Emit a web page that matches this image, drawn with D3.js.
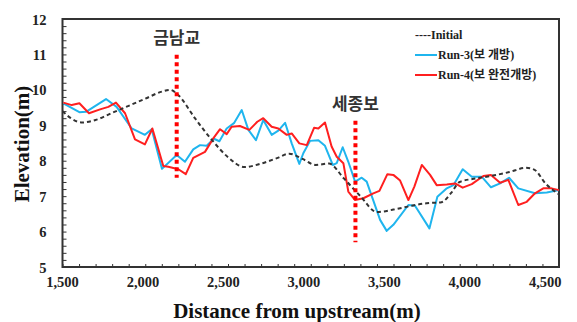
<!DOCTYPE html>
<html><head><meta charset="utf-8">
<script src="https://cdn.jsdelivr.net/npm/d3@7"></script>
<style>
html,body{margin:0;padding:0;background:#fff;}
svg{display:block;}
</style></head>
<body>
<svg id="c" width="577" height="322"></svg>
<script>
// ---- data ----
const initialDist = [1500,1550,1620,1700,1800,1900,2000,2100,2150,2200,2300,2400,2500,2600,2700,2800,2870,2950,3030,3110,3200,3300,3400,3500,3600,3700,3790,3850,3900,4000,4100,4200,4300,4350,4420,4500];
const initialElev = [9.4,9.2,9.08,9.15,9.35,9.55,9.75,9.95,10.0,9.85,9.2,8.6,8.1,7.82,7.92,8.08,8.2,8.05,7.88,7.92,7.5,7.0,6.55,6.62,6.72,6.8,6.83,7.1,7.4,7.5,7.58,7.68,7.8,7.75,7.35,7.05];

const run3Dist = [1505,1602,1642,1763,1827,1918,1998,2039,2101,2190,2240,2290,2331,2371,2415,2448,2492,2536,2583,2623,2669,2713,2764,2804,2845,2885,2931,2955,2996,3046,3086,3133,3157,3193,3227,3268,3308,3338,3419,3459,3499,3590,3630,3717,3765,3822,3862,3918,3973,4033,4089,4144,4198,4254,4355,4426,4500];
const run3Elev = [9.62,9.37,9.38,9.74,9.52,8.91,8.73,8.89,7.77,8.16,7.97,8.32,8.44,8.42,8.62,8.55,8.91,9.06,9.43,8.87,8.58,9.15,8.73,8.85,9.07,8.49,7.91,8.21,8.56,8.58,8.42,7.88,7.93,8.38,7.97,7.41,7.52,7.41,6.33,6.02,6.19,6.75,6.73,6.09,6.98,7.22,7.31,7.76,7.55,7.55,7.25,7.36,7.52,7.22,7.08,7.10,7.17];

const run4Dist = [1505,1556,1602,1660,1727,1777,1823,1878,1938,1998,2043,2109,2139,2200,2245,2290,2361,2411,2452,2492,2522,2572,2629,2677,2713,2764,2804,2855,2885,2931,2976,3020,3046,3086,3126,3157,3197,3227,3268,3318,3378,3415,3463,3499,3540,3590,3626,3671,3721,3761,3822,3872,3918,3973,4043,4089,4144,4194,4254,4305,4355,4405,4455,4500];
const run4Elev = [9.64,9.57,9.62,9.34,9.45,9.52,9.64,9.34,8.60,8.46,8.91,7.85,7.83,7.76,7.62,8.08,8.25,8.63,8.89,8.75,8.96,8.98,8.87,9.10,9.20,8.96,8.91,8.73,8.77,8.49,8.44,8.93,8.91,9.08,8.40,8.11,7.93,7.13,6.89,6.94,7.08,7.15,7.62,7.60,7.44,6.89,7.27,7.88,7.60,7.31,7.33,7.36,7.24,7.34,7.57,7.60,7.38,7.46,6.75,6.84,7.08,7.22,7.22,7.17];

const xTicks = [1500,2000,2500,3000,3500,4000,4500];
const yTicks = [5,6,7,8,9,10,11,12];
const markers = [{name:"금남교", dist:2190, top:10.99, bottom:7.52}, {name:"세종보", dist:3270, top:9.13, bottom:5.7}];
const legendLabels = ["----Initial", "Run-3(보 개방)", "Run-4(보 완전개방)"];

// ---- chart ----
const svg = d3.select("#c");
const L = 62.5, R = 559, T = 19, B = 267;
const x = d3.scaleLinear().domain([1500,4500]).range([L,R]);
const y = d3.scaleLinear().domain([5,12]).range([B,T]);
const serif = "'Liberation Serif','Times New Roman','Noto Sans CJK KR',serif";
const frameColor = "#333";

// minor ticks
const xa = d3.axisBottom(x).tickValues(d3.range(1500,4501,100)).tickSize(-3).tickFormat("");
const gx = svg.append("g").attr("transform",`translate(0,${B})`).call(xa);
gx.select(".domain").remove();
gx.selectAll("line").attr("stroke",frameColor).attr("stroke-width",1);
const ya = d3.axisLeft(y).tickValues(d3.range(5,12.001,0.2)).tickSize(-4).tickFormat("");
const gy = svg.append("g").attr("transform",`translate(${L},0)`).call(ya);
gy.select(".domain").remove();
gy.selectAll("line").attr("stroke",frameColor).attr("stroke-width",1);

// tick labels
const xl = svg.append("g").attr("transform",`translate(0,${B+3})`)
  .call(d3.axisBottom(x).tickValues(xTicks).tickSize(0).tickFormat(d3.format(",")));
xl.select(".domain").remove();
xl.selectAll("text").attr("font-family",serif).attr("font-weight","bold").attr("font-size",14.5).attr("fill","#222")
  .attr("dx",(d,i)=>-0.5-2.3*i).attr("dy","0.95em");
const yl = svg.append("g").attr("transform",`translate(${L-13},0)`)
  .call(d3.axisLeft(y).tickValues(yTicks).tickSize(0).tickFormat(d3.format("d")));
yl.select(".domain").remove();
yl.selectAll("text").attr("font-family",serif).attr("font-weight","bold").attr("font-size",14.5).attr("fill","#222").attr("dy","0.35em");

// frame
svg.append("rect").attr("x",L).attr("y",T).attr("width",R-L).attr("height",B-T)
  .attr("fill","none").attr("stroke",frameColor).attr("stroke-width",2);

// lines
const line = d3.line().x(d=>x(d[0])).y(d=>y(d[1]));
const initPts = initialDist.map((d,i)=>[d,initialElev[i]]);
const r3Pts = run3Dist.map((d,i)=>[d,run3Elev[i]]);
const r4Pts = run4Dist.map((d,i)=>[d,run4Elev[i]]);

svg.append("path").datum(r3Pts).attr("d",line).attr("fill","none").attr("stroke","#1FB5EE").attr("stroke-width",2).attr("stroke-linejoin","round");
svg.append("path").datum(r4Pts).attr("d",line).attr("fill","none").attr("stroke","#FF1F1F").attr("stroke-width",2).attr("stroke-linejoin","round");
svg.append("path").datum(initPts).attr("d",d3.line().curve(d3.curveMonotoneX).x(d=>x(d[0])).y(d=>y(d[1])))
  .attr("fill","none").attr("stroke","#333").attr("stroke-width",2).attr("stroke-dasharray","4,3");

// markers
markers.forEach(m=>{
  svg.append("line").attr("x1",x(m.dist)).attr("x2",x(m.dist)).attr("y1",y(m.top)).attr("y2",y(m.bottom))
    .attr("stroke","#FF0000").attr("stroke-width",4).attr("stroke-dasharray","4,3.5");
  svg.append("text").attr("x",x(m.dist)).attr("y",y(m.top)-11).attr("text-anchor","middle")
    .attr("font-family","'Noto Sans CJK KR',sans-serif").attr("font-weight","bold").attr("font-size",17).attr("fill","#333")
    .text(m.name);
});

// legend
const lg = svg.append("g");
const lgY = [35,55,75];
lg.append("text").attr("x",415).attr("y",lgY[0]).attr("dy","0.35em")
  .attr("font-family",serif).attr("font-weight","bold").attr("font-size",12).attr("fill","#222").text(legendLabels[0]);
[["#1FB5EE",1],["#FF1F1F",2]].forEach(([c,i])=>{
  lg.append("line").attr("x1",415).attr("x2",437).attr("y1",lgY[i]).attr("y2",lgY[i]).attr("stroke",c).attr("stroke-width",2);
  lg.append("text").attr("x",438).attr("y",lgY[i]).attr("dy","0.35em")
    .attr("font-family",serif).attr("font-weight","bold").attr("font-size",12).attr("fill","#222").text(legendLabels[i]);
});

// axis titles
svg.append("text").attr("x",297).attr("y",318).attr("text-anchor","middle")
  .attr("font-family",serif).attr("font-weight","bold").attr("font-size",21).attr("fill","#111").text("Distance from upstream(m)");
svg.append("text").attr("transform",`translate(29,144) rotate(-90)`).attr("text-anchor","middle")
  .attr("font-family",serif).attr("font-weight","bold").attr("font-size",21).attr("fill","#111").text("Elevation(m)");
</script>
</body></html>
